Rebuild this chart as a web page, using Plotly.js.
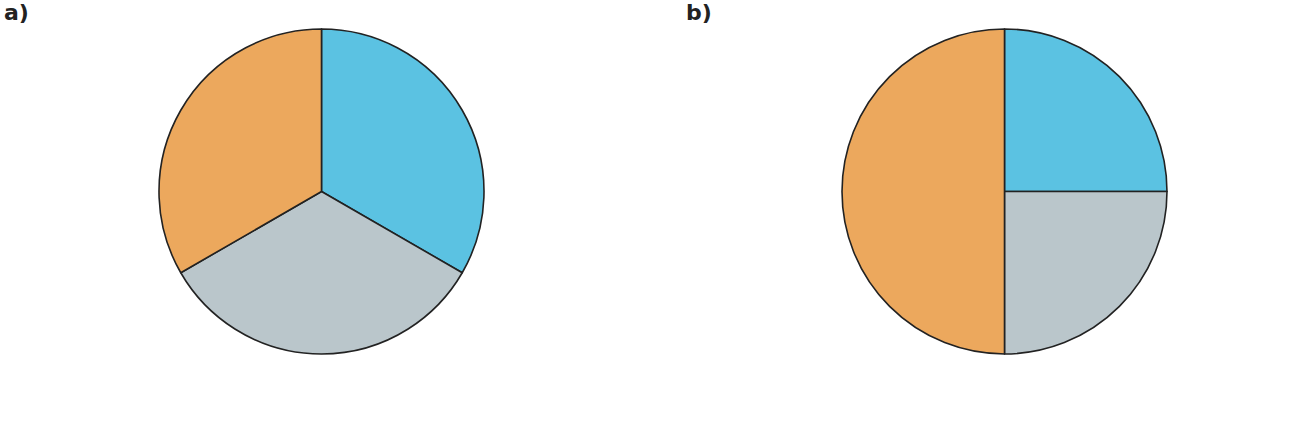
<!DOCTYPE html>
<html><head><meta charset="utf-8">
<script src="https://cdn.plot.ly/plotly-3.0.1.min.js"></script>
<style>html,body{margin:0;padding:0;background:#fff}#c{width:1296px;height:439px}</style>
</head><body><div id="c"></div>
<script>
const labels = ["Blue", "Gray", "Orange"];
const valuesA = [1, 1, 1];
const valuesB = [1, 1, 2];
const colors = ["#5bc2e2", "#bac6cb", "#eca85d"];
const panelLabels = ["a)", "b)"];

const common = {
  type: "pie", labels: labels, sort: false, direction: "clockwise", rotation: 0,
  textinfo: "none", hoverinfo: "label+value",
  marker: {colors: colors, line: {color: "#222222", width: 1.6}},
  showlegend: false
};
const data = [
  Object.assign({}, common, {values: valuesA, domain: {x: [159/1296, 484/1296], y: [1-354/439, 1-29/439]}}),
  Object.assign({}, common, {values: valuesB, domain: {x: [842/1296, 1167/1296], y: [1-354/439, 1-29/439]}})
];
const layout = {
  width: 1296, height: 439, margin: {l: 0, r: 0, t: 0, b: 0},
  paper_bgcolor: "#fff", showlegend: false,
  annotations: [
    {text: "<b>" + panelLabels[0] + "</b>", x: 2/1296, y: 1, xref: "paper", yref: "paper", xanchor: "left", yanchor: "top", yshift: 2, showarrow: false, font: {family: "DejaVu Sans", size: 22, color: "#222"}},
    {text: "<b>" + panelLabels[1] + "</b>", x: 684/1296, y: 1, xref: "paper", yref: "paper", xanchor: "left", yanchor: "top", yshift: 2, showarrow: false, font: {family: "DejaVu Sans", size: 22, color: "#222"}}
  ]
};
Plotly.newPlot("c", data, layout, {displayModeBar: false});
</script></body></html>
